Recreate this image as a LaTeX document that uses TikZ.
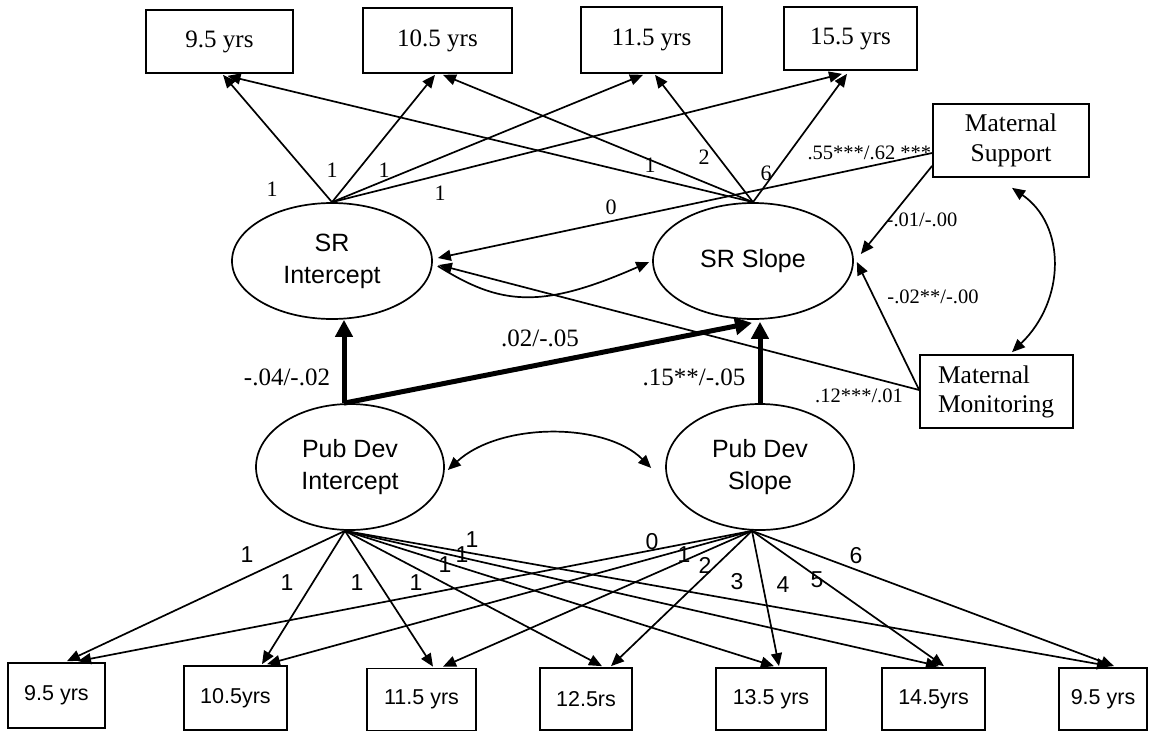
\documentclass[tikz,border=0pt]{standalone}
\usepackage{fontspec}
\setmainfont{Liberation Serif}
\setsansfont{Liberation Sans}
\usetikzlibrary{arrows.meta,calc,shapes.geometric}
\begin{document}
\begin{tikzpicture}[x=1pt,y=-1pt,line width=1.7pt,
  >={Triangle[length=13pt,width=11pt]},
  tbox/.style={draw,rectangle,inner sep=0pt,font=\fontsize{25}{29}\selectfont},
  bbox/.style={draw,rectangle,inner sep=0pt,font=\sffamily\fontsize{21.5}{25}\selectfont},
  lat/.style={draw,ellipse,inner sep=0pt,minimum width=200pt,minimum height=116pt,align=center,font=\sffamily\fontsize{25}{32}\selectfont},
  sl/.style={inner sep=0pt,font=\fontsize{22}{26}\selectfont},
  sfl/.style={inner sep=0pt,font=\sffamily\fontsize{23}{27}\selectfont},
  coef/.style={inner sep=0pt,font=\fontsize{20.5}{24}\selectfont},
  bcoef/.style={inner sep=0pt,font=\fontsize{25}{30}\selectfont},
  thickarr/.style={line width=5pt,-{Triangle[length=17pt,width=17pt]}}]
\fill[white] (0,0) rectangle (1157,731);
\useasboundingbox (0,0) rectangle (1157,731);

% top indicator boxes
\node[tbox,minimum width=147pt,minimum height=63pt] (t1) at (219.5,41.5) {9.5 yrs};
\node[tbox,minimum width=149pt,minimum height=65pt] (t2) at (437.5,40.5) {10.5 yrs};
\node[tbox,minimum width=141pt,minimum height=66pt] (t3) at (651.5,40) {11.5 yrs};
\node[tbox,minimum width=133pt,minimum height=63pt] (t4) at (850.5,38.5) {15.5 yrs};

% maternal boxes
\node[tbox,align=center,minimum width=156pt,minimum height=73pt,font=\fontsize{25.5}{30}\selectfont] (ms) at (1011,140.5) {Maternal\\Support};
\node[tbox,align=left,text width=117pt,inner xsep=18pt,minimum height=73pt,font=\fontsize{25.5}{29}\selectfont] (mm) at (996.5,391.5) {Maternal\\Monitoring};

% latent variables
\node[lat] (sri) at (332,261) {SR\\Intercept};
\node[lat] (srs) at (753,261) {SR Slope};
\node[lat,minimum width=188pt,minimum height=126pt] (pdi) at (350,467) {Pub Dev\\Intercept};
\node[lat,minimum width=188pt,minimum height=126pt] (pds) at (760,467) {Pub Dev\\Slope};

% bottom indicator boxes
\node[bbox,minimum width=97pt,minimum height=65pt] (b1) at (56.5,695.5) {9.5 yrs};
\node[bbox,minimum width=103pt,minimum height=64pt] (b2) at (235.5,698) {10.5yrs};
\node[bbox,minimum width=109pt,minimum height=62pt] (b3) at (421.5,699.5) {11.5 yrs};
\node[bbox,minimum width=92pt,minimum height=62pt] (b4) at (586,699) {12.5rs};
\node[bbox,minimum width=110pt,minimum height=62pt] (b5) at (771,699) {13.5 yrs};
\node[bbox,minimum width=103pt,minimum height=62pt] (b6) at (933.5,699) {14.5yrs};
\node[bbox,minimum width=88pt,minimum height=62pt] (b7) at (1103,699) {9.5 yrs};

% emanation points
\coordinate (pib) at ($(pdi.south)+(-5,0)$);
\coordinate (psb) at ($(pds.south)+(-8,0)$);
\coordinate (pit) at ($(pdi.north)+(-6,0)$);

% top loadings
\draw[->] (sri.north) -- ($(t1.south)+(3.5,1)$);
\draw[->] (srs.north) -- ($(t1.south)+(8,2)$);
\draw[->] (sri.north) -- ($(t2.south)+(-2.5,1)$);
\draw[->] (srs.north) -- ($(t2.south)+(5.5,1)$);
\draw[->] (sri.north) -- ($(t3.south)+(-8.5,1)$);
\draw[->] (srs.north) -- ($(t3.south)+(3.5,1)$);
\draw[->] (sri.north) -- ($(t4.south)+(-8.5,3)$);
\draw[->] (srs.north) -- ($(t4.south)+(-3.5,3)$);

\node[sl] (la1) at (272,189) {1};
\node[sl] (la2) at (332,170) {1};
\node[sl] (la3) at (384,170) {1};
\node[sl] (la4) at (440,193) {1};
\node[sl] (lb1) at (650,165) {1};
\node[sl] (lb2) at (704,157) {2};
\node[sl] (lb3) at (766,173) {6};

% maternal paths
\draw[->] ($(ms.west)+(0,12.5)$) -- ($(sri.east)+(5,-3)$);
\draw[->] ($(ms.south west)+(0,-12)$) -- ($(srs.east)+(7,-7)$);
\draw[->] ($(mm.west)+(0,-1.5)$) -- ($(sri.east)+(6,4)$);
\draw[->] ($(mm.west)+(0,-1.5)$) -- ($(srs.east)+(3,1)$);
\draw[<->] ($(ms.south)+(1,10)$) .. controls (1066,225) and (1066,300) .. ($(mm.north)+(15.5,-2)$);

\node[sl] (c0) at (611,207) {0};
\node[coef,anchor=east] (c1) at (932,153) {.55***/.62 ***};
\node[coef] (c2) at (922,220) {-.01/-.00};
\node[coef] (c3) at (933,297) {-.02**/-.00};
\node[coef] (c4) at (859,396) {.12***/.01};

% SR covariance
\draw[->] ($(sri.east)+(5,5)$) .. controls (500,305) and (540,310) .. ($(srs.west)+(-3,1)$);

% structural paths
\draw[thickarr] (pit) -- (pit |- sri.south);
\draw[thickarr] (pit) -- ($(srs.south)+(-1,3)$);
\draw[thickarr] (pds.north) -- ($(pds.north |- srs.south)+(0,2)$);

\node[bcoef] (c5) at (287,377) {-.04/-.02};
\node[bcoef] (c6) at (540,338) {.02/-.05};
\node[bcoef] (c7) at (694,377) {.15**/-.05};

% Pub Dev covariance
\draw[<->] ($(pdi.east)+(3,3)$) .. controls (500,422) and (605,422) .. ($(pds.west)+(-14,1)$);

% bottom loadings
\draw[->] (pib) -- ($(b1.north)+(10.5,-1)$);
\draw[->] (pib) -- ($(b2.north)+(26.5,-1)$);
\draw[->] (pib) -- ($(b3.north)+(11.5,-1)$);
\draw[->] (pib) -- ($(b4.north)+(16,-1)$);
\draw[->] (pib) -- ($(b5.north)+(3,-1)$);
\draw[->] (pib) -- ($(b6.north)+(5.5,-1)$);
\draw[->] (pib) -- ($(b7.north)+(7,-1)$);
\draw[->] (psb) -- ($(b1.north)+(21.5,-1)$);
\draw[->] (psb) -- ($(b2.north)+(31.5,-1)$);
\draw[->] (psb) -- ($(b3.north)+(21.5,-1)$);
\draw[->] (psb) -- ($(b4.north)+(25,-1)$);
\draw[->] (psb) -- ($(b5.north)+(8,-1)$);
\draw[->] (psb) -- ($(b6.north)+(10.5,-1)$);
\draw[->] (psb) -- ($(b7.north)+(11,-1)$);

\node[sfl] (ma1) at (247,555) {1};
\node[sfl] (ma2) at (287,583) {1};
\node[sfl] (ma3) at (357,583) {1};
\node[sfl] (ma4) at (416,583) {1};
\node[sfl] (ma5) at (445,565) {1};
\node[sfl] (ma6) at (462,555) {1};
\node[sfl] (ma7) at (472,540) {1};
\node[sfl] (mb0) at (652,542) {0};
\node[sfl] (mb1) at (684,555) {1};
\node[sfl] (mb2) at (705,565) {2};
\node[sfl] (mb3) at (737,582) {3};
\node[sfl] (mb4) at (783,585) {4};
\node[sfl] (mb5) at (817,580) {5};
\node[sfl] (mb6) at (856,556) {6};
\end{tikzpicture}
\end{document}
